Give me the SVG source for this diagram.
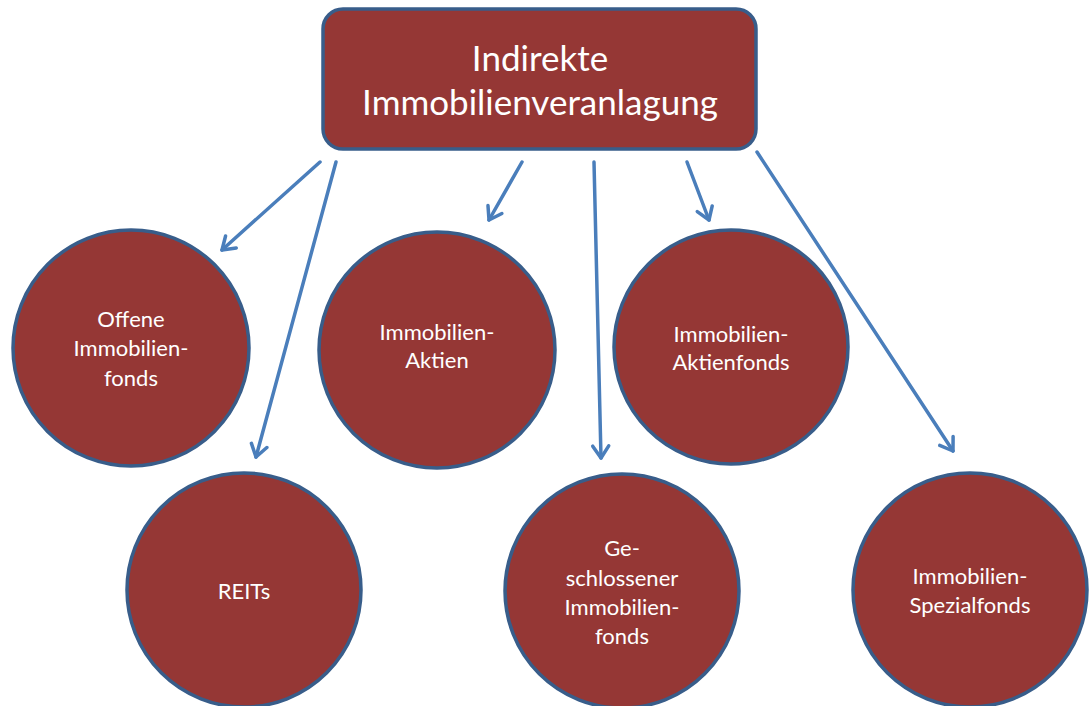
<svg xmlns="http://www.w3.org/2000/svg" width="1089" height="706" viewBox="0 0 1089 706">
<defs>
<marker id="arr" markerUnits="userSpaceOnUse" markerWidth="30" markerHeight="30" refX="15" refY="15" orient="auto" overflow="visible">
<path d="M3,7 L15,15 L3,23" fill="none" stroke="#4A7EBB" stroke-width="3.5" stroke-linecap="round" stroke-linejoin="round"/>
</marker>
</defs>
<style>
.n{fill:#953735;stroke:#385D8A;stroke-width:3.5}
.t{fill:#ffffff;font-family:Lato,"Open Sans","Liberation Sans",sans-serif;font-size:22px;text-anchor:middle}
.h{fill:#ffffff;font-family:Lato,"Open Sans","Liberation Sans",sans-serif;font-size:35px;text-anchor:middle}
.c{stroke:#4A7EBB;stroke-width:3.5;fill:none;stroke-linecap:round;marker-end:url(#arr)}
</style>
<rect width="1089" height="706" fill="#ffffff"/>
<g id="connectors">
<line class="c" x1="320" y1="162" x2="222" y2="250"/>
<line class="c" x1="336" y1="162" x2="256" y2="457"/>
<line class="c" x1="522" y1="162" x2="489" y2="220"/>
<line class="c" x1="594" y1="162" x2="601" y2="458"/>
<line class="c" x1="687" y1="162" x2="709" y2="220"/>
<line class="c" x1="757" y1="152" x2="953" y2="451"/>
</g>
<g id="root">
<rect class="n" x="323" y="9" width="433" height="140" rx="20" ry="20" stroke-width="4"/>
<text class="h" x="540" y="71">Indirekte</text>
<text class="h" x="540" y="115">Immobilienveranlagung</text>
</g>
<g id="offene">
<circle class="n" cx="131" cy="348" r="118"/>
<text class="t" x="131" y="327">Offene</text>
<text class="t" x="131" y="356">Immobilien-</text>
<text class="t" x="131" y="386">fonds</text>
</g>
<g id="reits">
<circle class="n" cx="244" cy="590" r="117"/>
<text class="t" x="244" y="599">REITs</text>
</g>
<g id="aktien">
<circle class="n" cx="437" cy="350" r="118"/>
<text class="t" x="437" y="340">Immobilien-</text>
<text class="t" x="437" y="368">Aktien</text>
</g>
<g id="aktienfonds">
<circle class="n" cx="731" cy="347" r="117"/>
<text class="t" x="731" y="342">Immobilien-</text>
<text class="t" x="731" y="370">Aktienfonds</text>
</g>
<g id="geschlossen">
<circle class="n" cx="622" cy="591" r="117"/>
<text class="t" x="622" y="556">Ge-</text>
<text class="t" x="622" y="586">schlossener</text>
<text class="t" x="622" y="615">Immobilien-</text>
<text class="t" x="622" y="644">fonds</text>
</g>
<g id="spezial">
<circle class="n" cx="970" cy="590" r="117"/>
<text class="t" x="970" y="584">Immobilien-</text>
<text class="t" x="970" y="613">Spezialfonds</text>
</g>
</svg>
